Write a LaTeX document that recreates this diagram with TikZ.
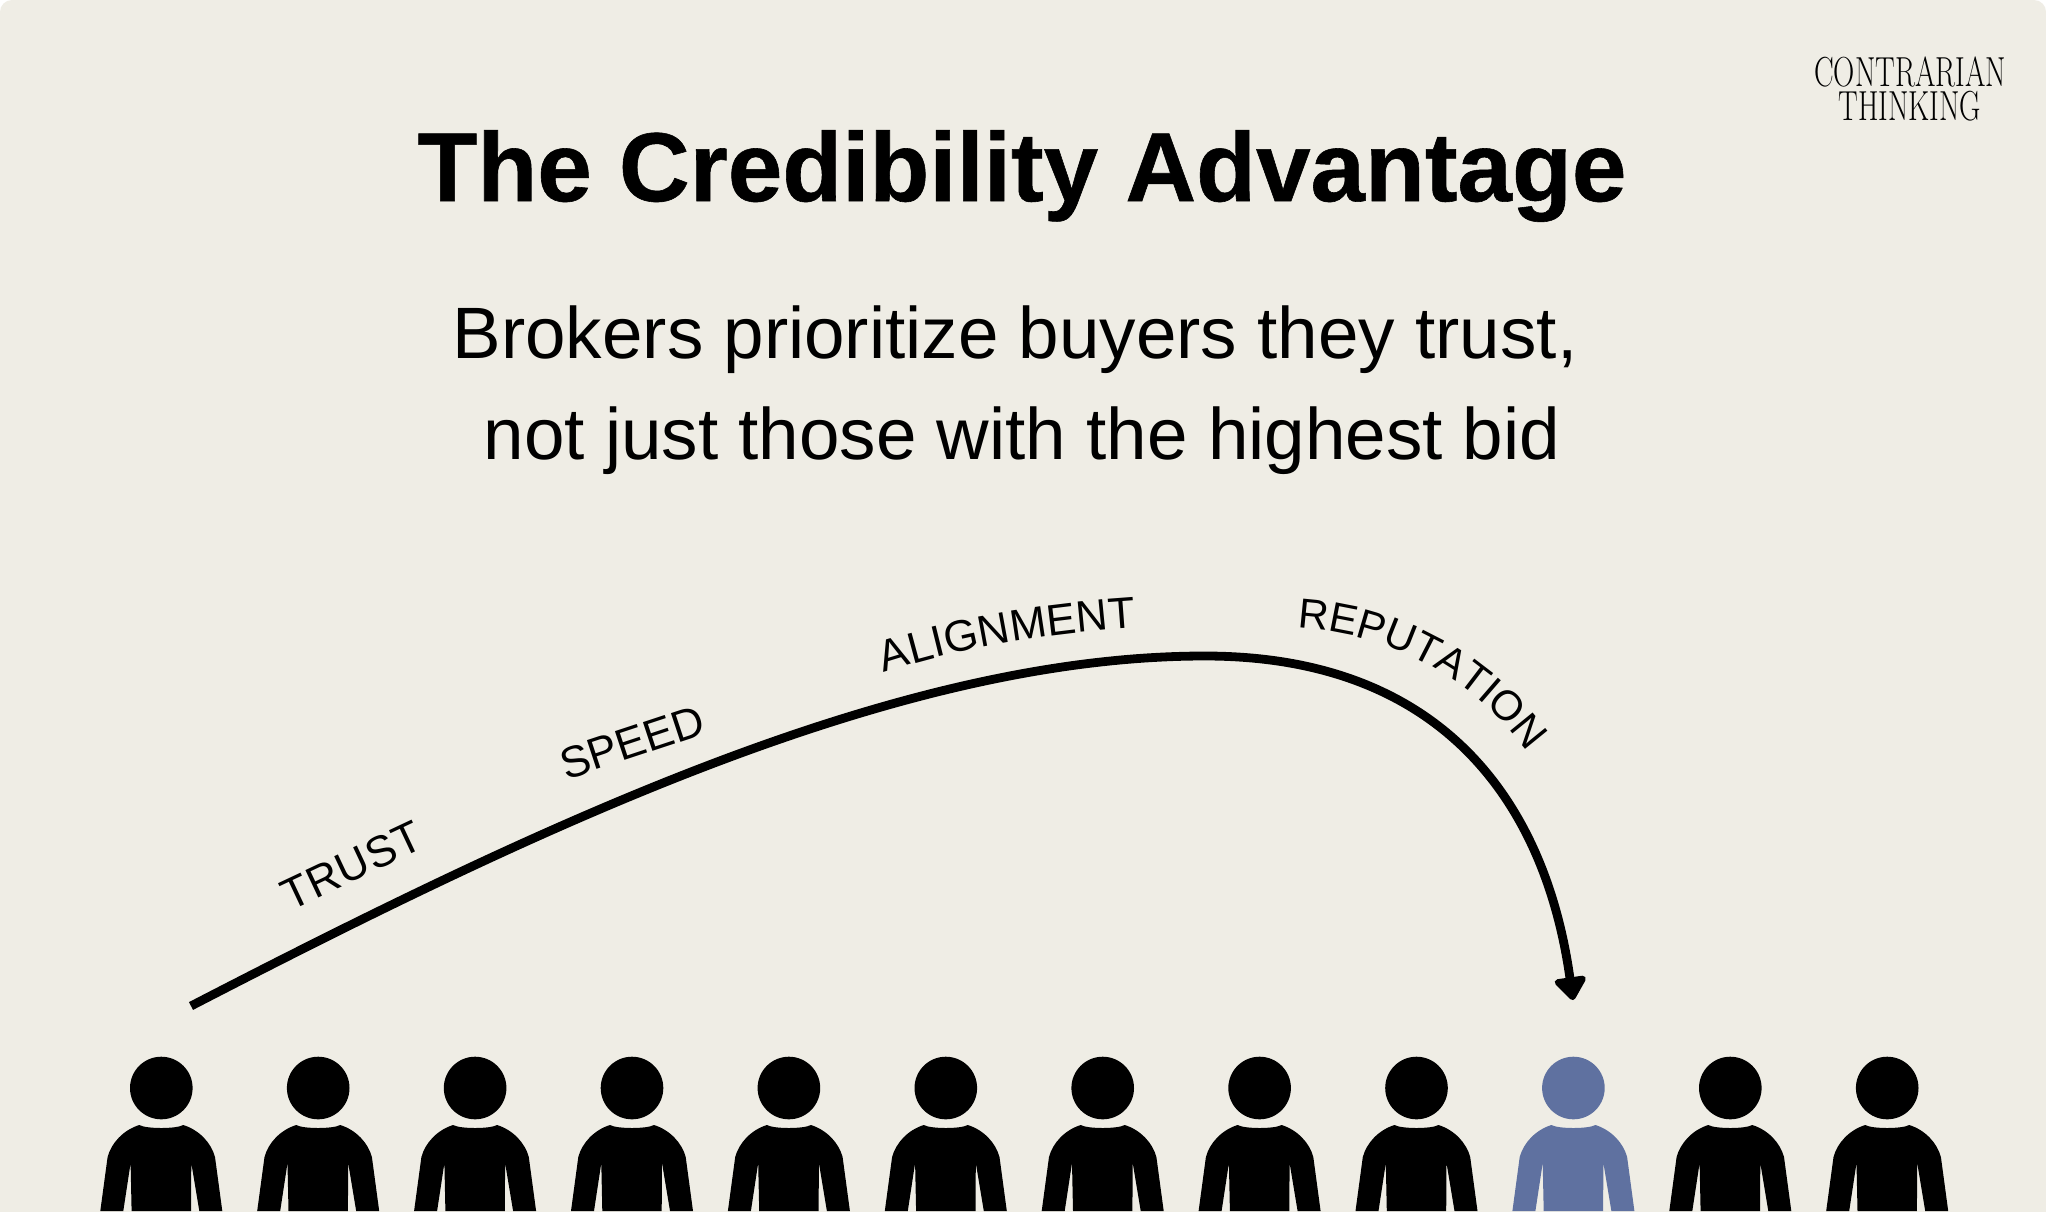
\documentclass[tikz,border=0pt]{standalone}
\usepackage{fontspec}
\setmainfont{Liberation Sans}
\newfontfamily\titlefont[BoldFeatures={FakeBold=0.6}]{Liberation Sans}
\newfontfamily\logofont{Latin Modern Roman}
\usetikzlibrary{decorations.text,arrows.meta}
\definecolor{paper}{HTML}{EFEDE5}
\definecolor{slateblue}{HTML}{5F71A0}
\tikzset{
  x=0.5pt,y=-0.5pt,
  person/.pic={
    \fill[pic actions] (0,-36) circle[radius=31.3];
    \fill[pic actions] (-22,1) .. controls (-15,5) and (15,5) .. (22,1)
      .. controls (38,6) and (50,19) .. (53.7,33)
      -- (61,87) -- (38,87) -- (30,39) -- (29.7,87) -- (-29.7,87) -- (-30.7,39) -- (-38,87) -- (-61,87) -- (-53.7,33)
      .. controls (-50,19) and (-38,6) .. (-22,1) -- cycle;
  },
  arc line/.style={line width=4.4pt,draw=black},
  curved label/.style={postaction={decorate,decoration={text along path,text align={fit to path},text={|\fontsize{22}{22}\selectfont|#1}}}},
  curved label small/.style={postaction={decorate,decoration={text along path,text align={fit to path},text={|\fontsize{21}{21}\selectfont|#1}}}},
}
\begin{document}
\begin{tikzpicture}
\useasboundingbox (0,0) rectangle (2046,1211);
\fill[white] (0,0) rectangle (2046,1211);
\fill[paper,rounded corners=6pt] (0,0) rectangle (2046,1240);
\node[anchor=center,font=\titlefont\fontsize{49}{49}\selectfont\bfseries] (title) at (1022,176) {The Credibility Advantage};
\node[anchor=center,font=\fontsize{36.4}{36.4}\selectfont] (sub1) at (1015,340) {Brokers prioritize buyers they trust,};
\node[anchor=center,font=\fontsize{36.4}{36.4}\selectfont] (sub2) at (1022,441) {not just those with the highest bid};
\node[anchor=center,font=\logofont\fontsize{21}{21}\selectfont] (logo1) at (1910,72) {\scalebox{0.70}[1]{CONTRARIAN}};
\node[anchor=center,font=\logofont\fontsize{21}{21}\selectfont] (logo2) at (1910,106) {\scalebox{0.70}[1]{THINKING}};
\foreach \i in {0,...,11}{
  \ifnum\i=9\relax
    \pic[fill=slateblue] at ({161.3+\i*156.9},1124) {person};
  \else
    \pic[fill=black] at ({161.3+\i*156.9},1124) {person};
  \fi
}
\coordinate (start) at (191,1006);
\coordinate (peak) at (1205,656);
\coordinate (tip) at (1573,1000);
\draw[arc line,-{Triangle[length=12.5pt,width=18pt,round]}] (start) .. controls (560,815) and (905,656) .. (peak) .. controls (1440,656) and (1545,800) .. (tip);
\path[curved label=TRUST] (290,911) -- (426,847);
\path[curved label=SPEED] (566,780) -- (708,733);
\path[curved label=ALIGNMENT] (884,673) .. controls (960,648) and (1045,634) .. (1135,628);
\path[curved label small=REPUTATION] (1297,628) .. controls (1380,632) and (1465,670) .. (1524,747);
\end{tikzpicture}
\end{document}
